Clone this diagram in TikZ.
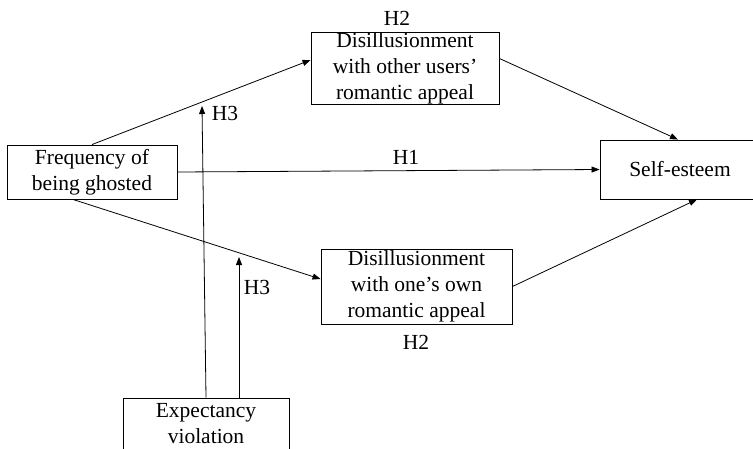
\documentclass[tikz,border=0pt]{standalone}
\usepackage{fontspec}
\setmainfont{Liberation Serif}
\usepackage{tikz}
\usetikzlibrary{arrows.meta, positioning}

\tikzset{
	varbox/.style={draw, rectangle, align=center, inner sep=0pt, line width=0.9pt},
	hlabel/.style={inner sep=0pt}
}

\begin{document}
\begin{tikzpicture}[x=1pt, y=-1pt, >={Triangle[length=8pt,width=6pt]}, line width=0.8pt,
	font=\fontsize{21.5}{26}\selectfont]
		\useasboundingbox (0,0) rectangle (753,448);
		\clip (0,0) rectangle (753,448);
		
		% variables
		\node[varbox, minimum width=170pt, minimum height=54pt] (freq) at (92,172) {Frequency of\\being ghosted};
		\node[varbox, minimum width=188pt, minimum height=71pt] (other) at (405,68.5) {Disillusionment\\with other users'\\romantic appeal};
		\node[varbox, minimum width=191pt, minimum height=75pt] (own) at (416.5,286.5) {Disillusionment\\with one's own\\romantic appeal};
		\node[varbox, minimum width=160pt, minimum height=59pt] (self) at (680,169.5) {Self-esteem};
		\node[varbox, minimum width=166pt, minimum height=51pt] (expect) at (206,423.5) {Expectancy\\violation};
		
		% hypotheses
		\node[hlabel] (h2a) at (397,18) {H2};
		\node[hlabel] (h2b) at (416,342) {H2};
		\node[hlabel] (h1) at (406,157) {H1};
		\node[hlabel] (h3a) at (225,113) {H3};
		\node[hlabel] (h3b) at (257,287) {H3};
		
		% paths
		\draw[->] (freq.north) -- ([yshift=8.5pt]other.west);
		\draw[->] ([xshift=-19pt]freq.south) -- ([yshift=7.5pt]own.west);
		\draw[->] (freq.east) -- (self.west);
		\draw[->] ([yshift=10pt]other.east) -- ([xshift=-2pt]self.north);
		\draw[->] (own.east) -- ([xshift=17pt]self.south);
		
		% moderation
		\coordinate (m1) at (202,106);
		\coordinate (m2) at (239,257);
		\draw[->] (expect.north) -- (m1);
		\draw[->] (expect.north -| m2) -- (m2);
	\end{tikzpicture}
\end{document}
